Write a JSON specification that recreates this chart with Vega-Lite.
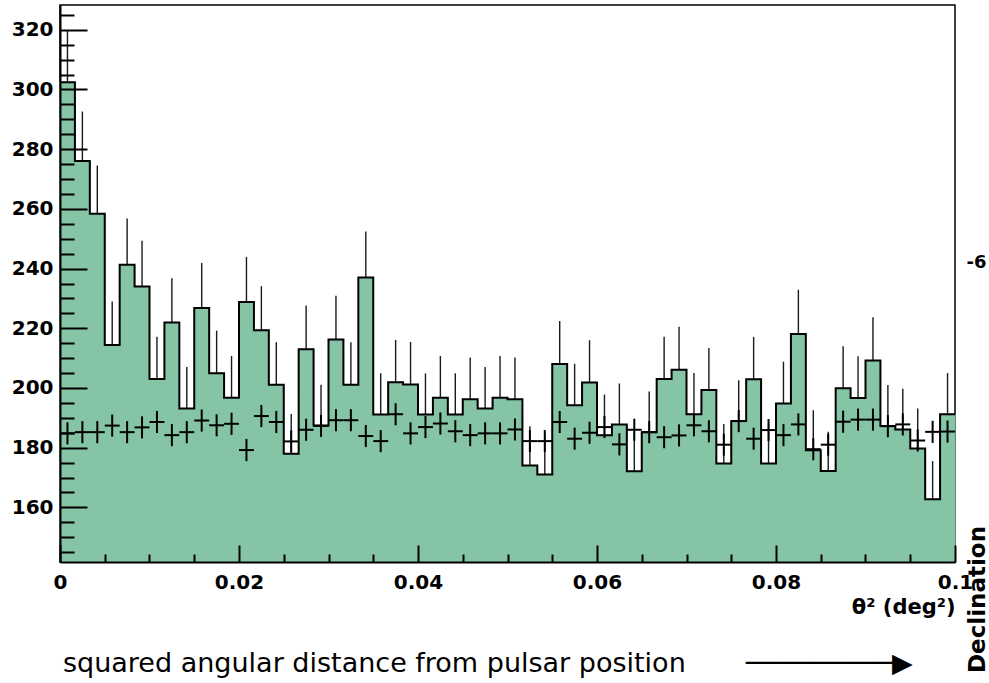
{
  "$schema": "https://vega.github.io/schema/vega-lite/v6.json",
  "width": 895,
  "height": 557,
  "autosize": {"type": "none"},
  "padding": {"left": 60, "top": 5, "right": 34, "bottom": 121},
  "background": "white",
  "config": {"view": {"stroke": "black", "strokeWidth": 1.5}, "font": "DejaVu Sans"},
  "title": {
    "text": "squared angular distance from pulsar position\u00a0\u00a0\u00a0\u00a0\u00a0\u00a0\u00a0\u2500\u2500\u2500\u2500\u2500\u2500\u2500\u2500\u2500\u25b6",
    "orient": "bottom", "anchor": "start", "frame": "group", "dx": 3,
    "font": "DejaVu Sans", "fontSize": 27, "fontWeight": "normal", "color": "black", "offset": -22
  },
  "data": {"values": [
    {"lo":0,"mid":0.000833,"hi":0.001667,"on":302.4,"err":17.4,"off":184.8,"oe":3.7},
    {"lo":0.001667,"mid":0.0025,"hi":0.003333,"on":276.0,"err":16.6,"off":185.2,"oe":3.7},
    {"lo":0.003333,"mid":0.004167,"hi":0.005,"on":258.4,"err":16.1,"off":185.2,"oe":3.7},
    {"lo":0.005,"mid":0.005833,"hi":0.006667,"on":214.4,"err":14.6,"off":187.4,"oe":3.7},
    {"lo":0.006667,"mid":0.0075,"hi":0.008333,"on":241.3,"err":15.5,"off":185.2,"oe":3.7},
    {"lo":0.008333,"mid":0.009167,"hi":0.01,"on":234.0,"err":15.3,"off":186.8,"oe":3.7},
    {"lo":0.01,"mid":0.010833,"hi":0.011667,"on":203.0,"err":14.2,"off":188.6,"oe":3.7},
    {"lo":0.011667,"mid":0.0125,"hi":0.013333,"on":221.9,"err":14.9,"off":184.2,"oe":3.7},
    {"lo":0.013333,"mid":0.014167,"hi":0.015,"on":193.1,"err":13.9,"off":185.2,"oe":3.7},
    {"lo":0.015,"mid":0.015833,"hi":0.016667,"on":226.8,"err":15.1,"off":189.1,"oe":3.7},
    {"lo":0.016667,"mid":0.0175,"hi":0.018333,"on":204.9,"err":14.3,"off":187.5,"oe":3.7},
    {"lo":0.018333,"mid":0.019167,"hi":0.02,"on":196.7,"err":14.0,"off":188.0,"oe":3.7},
    {"lo":0.02,"mid":0.020833,"hi":0.021667,"on":228.8,"err":15.1,"off":179.2,"oe":3.7},
    {"lo":0.021667,"mid":0.0225,"hi":0.023333,"on":219.3,"err":14.8,"off":190.6,"oe":3.7},
    {"lo":0.023333,"mid":0.024167,"hi":0.025,"on":201.1,"err":14.2,"off":188.6,"oe":3.7},
    {"lo":0.025,"mid":0.025833,"hi":0.026667,"on":178.0,"err":13.3,"off":182.1,"oe":3.7},
    {"lo":0.026667,"mid":0.0275,"hi":0.028333,"on":213.0,"err":14.6,"off":186.0,"oe":3.7},
    {"lo":0.028333,"mid":0.029167,"hi":0.03,"on":187.4,"err":13.7,"off":187.3,"oe":3.7},
    {"lo":0.03,"mid":0.030833,"hi":0.031667,"on":216.2,"err":14.7,"off":189.2,"oe":3.7},
    {"lo":0.031667,"mid":0.0325,"hi":0.033333,"on":201.1,"err":14.2,"off":189.2,"oe":3.7},
    {"lo":0.033333,"mid":0.034167,"hi":0.035,"on":237.0,"err":15.4,"off":183.9,"oe":3.7},
    {"lo":0.035,"mid":0.035833,"hi":0.036667,"on":191.1,"err":13.8,"off":182.2,"oe":3.7},
    {"lo":0.036667,"mid":0.0375,"hi":0.038333,"on":201.9,"err":14.2,"off":191.2,"oe":3.7},
    {"lo":0.038333,"mid":0.039167,"hi":0.04,"on":201.2,"err":14.2,"off":184.8,"oe":3.7},
    {"lo":0.04,"mid":0.040833,"hi":0.041667,"on":191.1,"err":13.8,"off":186.9,"oe":3.7},
    {"lo":0.041667,"mid":0.0425,"hi":0.043333,"on":196.7,"err":14.0,"off":188.1,"oe":3.7},
    {"lo":0.043333,"mid":0.044167,"hi":0.045,"on":191.1,"err":13.8,"off":185.5,"oe":3.7},
    {"lo":0.045,"mid":0.045833,"hi":0.046667,"on":196.2,"err":14.0,"off":184.2,"oe":3.7},
    {"lo":0.046667,"mid":0.0475,"hi":0.048333,"on":193.1,"err":13.9,"off":184.8,"oe":3.7},
    {"lo":0.048333,"mid":0.049167,"hi":0.05,"on":196.7,"err":14.0,"off":184.8,"oe":3.7},
    {"lo":0.05,"mid":0.050833,"hi":0.051667,"on":196.2,"err":14.0,"off":186.1,"oe":3.7},
    {"lo":0.051667,"mid":0.0525,"hi":0.053333,"on":174.0,"err":13.2,"off":182.2,"oe":3.7},
    {"lo":0.053333,"mid":0.054167,"hi":0.055,"on":171.0,"err":13.1,"off":182.2,"oe":3.7},
    {"lo":0.055,"mid":0.055833,"hi":0.056667,"on":208.0,"err":14.4,"off":188.6,"oe":3.7},
    {"lo":0.056667,"mid":0.0575,"hi":0.058333,"on":194.2,"err":13.9,"off":183.0,"oe":3.7},
    {"lo":0.058333,"mid":0.059167,"hi":0.06,"on":201.8,"err":14.2,"off":185.0,"oe":3.7},
    {"lo":0.06,"mid":0.060833,"hi":0.061667,"on":184.2,"err":13.6,"off":186.9,"oe":3.7},
    {"lo":0.061667,"mid":0.0625,"hi":0.063333,"on":187.8,"err":13.7,"off":181.1,"oe":3.7},
    {"lo":0.063333,"mid":0.064167,"hi":0.065,"on":172.1,"err":13.1,"off":186.0,"oe":3.7},
    {"lo":0.065,"mid":0.065833,"hi":0.066667,"on":185.2,"err":13.6,"off":185.2,"oe":3.7},
    {"lo":0.066667,"mid":0.0675,"hi":0.068333,"on":203.0,"err":14.2,"off":183.5,"oe":3.7},
    {"lo":0.068333,"mid":0.069167,"hi":0.07,"on":206.1,"err":14.4,"off":184.1,"oe":3.7},
    {"lo":0.07,"mid":0.070833,"hi":0.071667,"on":191.2,"err":13.8,"off":187.5,"oe":3.7},
    {"lo":0.071667,"mid":0.0725,"hi":0.073333,"on":199.3,"err":14.1,"off":185.5,"oe":3.7},
    {"lo":0.073333,"mid":0.074167,"hi":0.075,"on":174.7,"err":13.2,"off":181.0,"oe":3.7},
    {"lo":0.075,"mid":0.075833,"hi":0.076667,"on":188.9,"err":13.7,"off":188.9,"oe":3.7},
    {"lo":0.076667,"mid":0.0775,"hi":0.078333,"on":202.9,"err":14.2,"off":183.0,"oe":3.7},
    {"lo":0.078333,"mid":0.079167,"hi":0.08,"on":174.7,"err":13.2,"off":185.9,"oe":3.7},
    {"lo":0.08,"mid":0.080833,"hi":0.081667,"on":194.8,"err":14.0,"off":184.2,"oe":3.7},
    {"lo":0.081667,"mid":0.0825,"hi":0.083333,"on":218.1,"err":14.8,"off":187.8,"oe":3.7},
    {"lo":0.083333,"mid":0.084167,"hi":0.085,"on":179.1,"err":13.4,"off":179.5,"oe":3.7},
    {"lo":0.085,"mid":0.085833,"hi":0.086667,"on":172.2,"err":13.1,"off":181.0,"oe":3.7},
    {"lo":0.086667,"mid":0.0875,"hi":0.088333,"on":199.9,"err":14.1,"off":188.7,"oe":3.7},
    {"lo":0.088333,"mid":0.089167,"hi":0.09,"on":196.6,"err":14.0,"off":189.4,"oe":3.7},
    {"lo":0.09,"mid":0.090833,"hi":0.091667,"on":209.2,"err":14.5,"off":189.4,"oe":3.7},
    {"lo":0.091667,"mid":0.0925,"hi":0.093333,"on":187.3,"err":13.7,"off":187.2,"oe":3.7},
    {"lo":0.093333,"mid":0.094167,"hi":0.095,"on":186.1,"err":13.6,"off":187.8,"oe":3.7},
    {"lo":0.095,"mid":0.095833,"hi":0.096667,"on":179.7,"err":13.4,"off":182.4,"oe":3.7},
    {"lo":0.096667,"mid":0.0975,"hi":0.098333,"on":162.7,"err":12.8,"off":185.3,"oe":3.7},
    {"lo":0.098333,"mid":0.099167,"hi":0.1,"on":191.2,"err":13.8,"off":185.4,"oe":3.7}
  ]},
  "resolve": {"axis": {"x": "independent", "y": "independent"}},
  "layer": [
    {
      "mark": {"type": "errorbar", "color": "#1a1a1a", "thickness": 1.4},
      "encoding": {
        "x": {"field": "mid", "type": "quantitative", "scale": {"domain": [0, 0.1], "nice": false, "zero": false}, "axis": null},
        "y": {"field": "on", "type": "quantitative", "scale": {"domain": [141.7, 328.3], "nice": false, "zero": false}, "axis": null},
        "yError": {"field": "err"}
      }
    },
    {
      "mark": {"type": "rect", "fill": "#85c4a5", "stroke": "#85c4a5", "strokeWidth": 1},
      "encoding": {
        "x": {"field": "lo", "type": "quantitative", "scale": {"domain": [0, 0.1], "nice": false, "zero": false},
          "axis": {
            "orient": "bottom", "zindex": 1,
            "values": [0,0.005,0.01,0.015,0.02,0.025,0.03,0.035,0.04,0.045,0.05,0.055,0.06,0.065,0.07,0.075,0.08,0.085,0.09,0.095,0.1],
            "grid": false,
            "domainColor": "black", "domainWidth": 2,
            "tickColor": "black", "tickWidth": 2,
            "tickSize": {"condition": {"test": "round(datum.value*1000) % 20 === 0", "value": -17}, "value": -8},
            "labelExpr": "round(datum.value*1000) % 20 === 0 ? format(datum.value, '~g') : ''",
            "labelFlush": false, "labelOverlap": false,
            "labelFont": "DejaVu Sans", "labelFontWeight": "bold", "labelFontSize": 20, "labelColor": "black",
            "labelPadding": 27,
            "title": "θ² (deg²)",
            "titleFont": "DejaVu Sans", "titleFontWeight": "bold", "titleFontSize": 21, "titleColor": "black",
            "titleAnchor": "end", "titleAlign": "right", "titleBaseline": "top", "titleY": 34
          }},
        "x2": {"field": "hi"},
        "y": {"field": "on", "type": "quantitative", "scale": {"domain": [141.7, 328.3], "nice": false, "zero": false},
          "axis": {
            "orient": "left", "zindex": 1,
            "values": [145,150,155,160,165,170,175,180,185,190,195,200,205,210,215,220,225,230,235,240,245,250,255,260,265,270,275,280,285,290,295,300,305,310,315,320,325],
            "grid": false, "title": null,
            "domainColor": "black", "domainWidth": 2,
            "tickColor": "black", "tickWidth": 2,
            "tickSize": {"condition": {"test": "datum.value % 20 === 0", "value": -27}, "value": -14},
            "labelExpr": "datum.value % 20 === 0 ? datum.label : ''",
            "labelOverlap": false,
            "labelFont": "DejaVu Sans", "labelFontWeight": "bold", "labelFontSize": 20, "labelColor": "black",
            "labelPadding": 34
          }},
        "y2": {"datum": 141.7}
      }
    },
    {
      "transform": [{"fold": ["lo", "hi"], "as": ["edge", "ex"]}],
      "mark": {"type": "line", "color": "black", "strokeWidth": 2, "interpolate": "linear"},
      "encoding": {
        "x": {"field": "ex", "type": "quantitative", "scale": {"domain": [0, 0.1], "nice": false, "zero": false}, "axis": null},
        "y": {"field": "on", "type": "quantitative", "scale": {"domain": [141.7, 328.3], "nice": false, "zero": false},
          "axis": {
            "orient": "right", "values": [242.1], "labelExpr": "'-6'",
            "ticks": false, "domain": false, "grid": false,
            "labelPadding": 11, "labelFont": "DejaVu Sans", "labelFontWeight": "bold", "labelFontSize": 18, "labelColor": "black",
            "title": "Declination", "titleAngle": 270,
            "titleFont": "DejaVu Sans", "titleFontWeight": "bold", "titleFontSize": 23, "titleColor": "black",
            "titleX": 29, "titleY": 594, "titleAlign": "center", "titleBaseline": "alphabetic"
          }},
        "order": {"value": null}
      }
    },
    {
      "mark": {"type": "rule", "color": "black", "strokeWidth": 2},
      "encoding": {
        "x": {"field": "lo", "type": "quantitative", "scale": {"domain": [0, 0.1], "nice": false, "zero": false}, "axis": null},
        "x2": {"field": "hi"},
        "y": {"field": "off", "type": "quantitative", "scale": {"domain": [141.7, 328.3], "nice": false, "zero": false}, "axis": null}
      }
    },
    {
      "mark": {"type": "errorbar", "color": "black", "thickness": 2},
      "encoding": {
        "x": {"field": "mid", "type": "quantitative", "scale": {"domain": [0, 0.1], "nice": false, "zero": false}, "axis": null},
        "y": {"field": "off", "type": "quantitative", "scale": {"domain": [141.7, 328.3], "nice": false, "zero": false}, "axis": null},
        "yError": {"field": "oe"}
      }
    }
  ]
}
